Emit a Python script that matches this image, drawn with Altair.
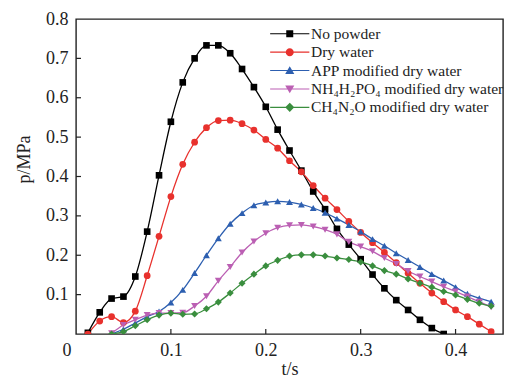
import altair as alt
import pandas as pd

# ---- data ----
step = 0.0125
series_names = ["No powder", "Dry water", "APP modified dry water",
                "NH\u2084H\u2082PO\u2084 modified dry water", "CH\u2084N\u2082O modified dry water"]
colors = ["#000000", "#e8312d", "#2d5fb0", "#bb5fb3", "#3a8e3e"]

no_powder_start = 1
no_powder = [0.003, 0.055, 0.090, 0.095, 0.146, 0.260, 0.403, 0.539, 0.639, 0.700,
             0.733, 0.733, 0.713, 0.673, 0.627, 0.577, 0.519, 0.466, 0.415, 0.362,
             0.317, 0.267, 0.227, 0.190, 0.151, 0.116, 0.086, 0.061, 0.036, 0.015, 0.0]

dry_water_start = 1
dry_water = [0.0, 0.033, 0.044, 0.029, 0.058, 0.148, 0.248, 0.349, 0.431, 0.487,
             0.524, 0.542, 0.543, 0.534, 0.518, 0.494, 0.472, 0.440, 0.412, 0.377,
             0.345, 0.316, 0.286, 0.258, 0.232, 0.207, 0.181, 0.154, 0.129, 0.104,
             0.082, 0.061, 0.044, 0.025, 0.006]

app_start = 3
app = [0.0, 0.012, 0.028, 0.044, 0.057, 0.080, 0.112, 0.155, 0.200, 0.243,
       0.280, 0.307, 0.327, 0.334, 0.337, 0.335, 0.329, 0.320, 0.308, 0.293,
       0.277, 0.260, 0.241, 0.224, 0.205, 0.188, 0.170, 0.152, 0.136, 0.119,
       0.102, 0.091, 0.082]

nh4_start = 3
nh4 = [0.002, 0.023, 0.036, 0.048, 0.053, 0.053, 0.054, 0.071, 0.096, 0.135,
       0.170, 0.207, 0.235, 0.256, 0.270, 0.276, 0.277, 0.273, 0.265, 0.253,
       0.234, 0.222, 0.210, 0.193, 0.178, 0.160, 0.146, 0.133, 0.120, 0.108,
       0.095, 0.082, 0.068]

ch4_start = 3
ch4 = [0.0, 0.006, 0.021, 0.036, 0.048, 0.053, 0.050, 0.051, 0.064, 0.081,
       0.104, 0.129, 0.152, 0.173, 0.187, 0.198, 0.201, 0.201, 0.198, 0.193,
       0.189, 0.183, 0.173, 0.161, 0.152, 0.140, 0.129, 0.119, 0.108, 0.099,
       0.088, 0.078, 0.071]

x_tick_values = [0.1, 0.2, 0.3, 0.4]
y_tick_values = [0.1, 0.2, 0.3, 0.4, 0.5, 0.6, 0.7]
x_label_values = [0, 0.1, 0.2, 0.3, 0.4]
y_label_values = [0.1, 0.2, 0.3, 0.4, 0.5, 0.6, 0.7, 0.8]

plot_shapes = ["square", "circle", "triangle-up", "triangle-down", "diamond"]
plot_sizes = [44, 50, 62, 62, 58]
bar = "M-5.6,-0.16H5.6V0.16H-5.6Z "
legend_shapes = [
    bar + "M-1,-1H1V1H-1Z",
    bar + "M-1.15,0A1.15,1.15 0 1,1 1.15,0A1.15,1.15 0 1,1 -1.15,0Z",
    bar + "M0,-1.25L1.3,1L-1.3,1Z",
    bar + "M-1.3,-1L1.3,-1L0,1.25Z",
    bar + "M0,-1.3L1.3,0L0,1.3L-1.3,0Z",
]

rows = []
for name, start, vals in zip(series_names,
                             [no_powder_start, dry_water_start, app_start, nh4_start, ch4_start],
                             [no_powder, dry_water, app, nh4, ch4]):
    for i, v in enumerate(vals):
        rows.append({"series": name, "t": round((start + i) * step, 4), "p": v})
df = pd.DataFrame(rows)

FONT = "Liberation Serif"
W, H = 427, 315

xscale = alt.Scale(domain=[0, 0.45], nice=False, zero=False)
yscale = alt.Scale(domain=[0, 0.8], nice=False, zero=False)

x_axis = alt.Axis(values=x_label_values, ticks=False, domain=False, grid=False,
                  format="~g", labelFont=FONT, labelFontSize=18, labelColor="#222",
                  labelPadding=7,
                  labelOffset={"condition": {"test": "datum.value === 0", "value": -14}, "value": 0},
                  title="t/s", titleFont=FONT, titleFontSize=18, titleFontWeight="normal",
                  titleColor="#222", titlePadding=1)
y_axis = alt.Axis(values=y_label_values, ticks=False, domain=False, grid=False,
                  format="~g", labelFont=FONT, labelFontSize=18, labelColor="#222",
                  labelPadding=8,
                  title="p/MPa", titleFont=FONT, titleFontSize=18, titleFontWeight="normal",
                  titleColor="#222", titlePadding=12, titleY=140, titleAnchor="middle")

base = alt.Chart(df)
X = alt.X("t:Q", scale=xscale, axis=x_axis)
Y = alt.Y("p:Q", scale=yscale, axis=y_axis)

lines = base.mark_line(strokeWidth=1.3, interpolate="monotone", clip=True).encode(
    x=X, y=Y,
    color=alt.Color("series:N", scale=alt.Scale(domain=series_names, range=colors), legend=None),
    detail="series:N",
)

points = base.mark_point(filled=True, opacity=1, clip=True).encode(
    x=alt.X("t:Q", scale=xscale), y=alt.Y("p:Q", scale=yscale),
    color=alt.Color("series:N", scale=alt.Scale(domain=series_names, range=colors), legend=None),
    shape=alt.Shape("series:N", scale=alt.Scale(domain=series_names, range=plot_shapes), legend=None),
    size=alt.Size("series:N", scale=alt.Scale(domain=series_names, range=plot_sizes), legend=None),
)

def make_legend():
    return alt.Legend(title=None, orient="none", legendX=206, legendY=7,
                      labelFont=FONT, labelFontSize=15.5, labelColor="#222",
                      symbolSize=49, symbolStrokeWidth=0, labelOffset=13.5,
                      rowPadding=1.4, padding=0, labelLimit=400)

legend_layer = base.transform_filter("false").mark_point(filled=True, opacity=1).encode(
    x=alt.X("t:Q", scale=xscale), y=alt.Y("p:Q", scale=yscale),
    color=alt.Color("series:N", scale=alt.Scale(domain=series_names, range=colors),
                    legend=make_legend()),
    shape=alt.Shape("series:N", scale=alt.Scale(domain=series_names, range=legend_shapes),
                    legend=make_legend()),
)

xt = pd.DataFrame({"v": x_tick_values})
yt = pd.DataFrame({"v": y_tick_values})
x_ticks = alt.Chart(xt).mark_rule(color="#222", strokeWidth=1.2).encode(
    x=alt.X("v:Q", scale=xscale), y=alt.value(H), y2=alt.value(H - 5))
y_ticks = alt.Chart(yt).mark_rule(color="#222", strokeWidth=1.2).encode(
    y=alt.Y("v:Q", scale=yscale), x=alt.value(0), x2=alt.value(5))

chart = alt.layer(lines, points, legend_layer, x_ticks, y_ticks).resolve_scale(
    color="independent", shape="independent", size="independent"
).properties(
    width=W, height=H,
    autosize=alt.AutoSizeParams(type="none"),
    padding={"left": 76, "top": 19, "right": 2, "bottom": 47},
    background="white",
).configure_view(stroke="#222", strokeWidth=1.4)

chart.save("out.html", embed_options={"renderer": "svg", "actions": False})
